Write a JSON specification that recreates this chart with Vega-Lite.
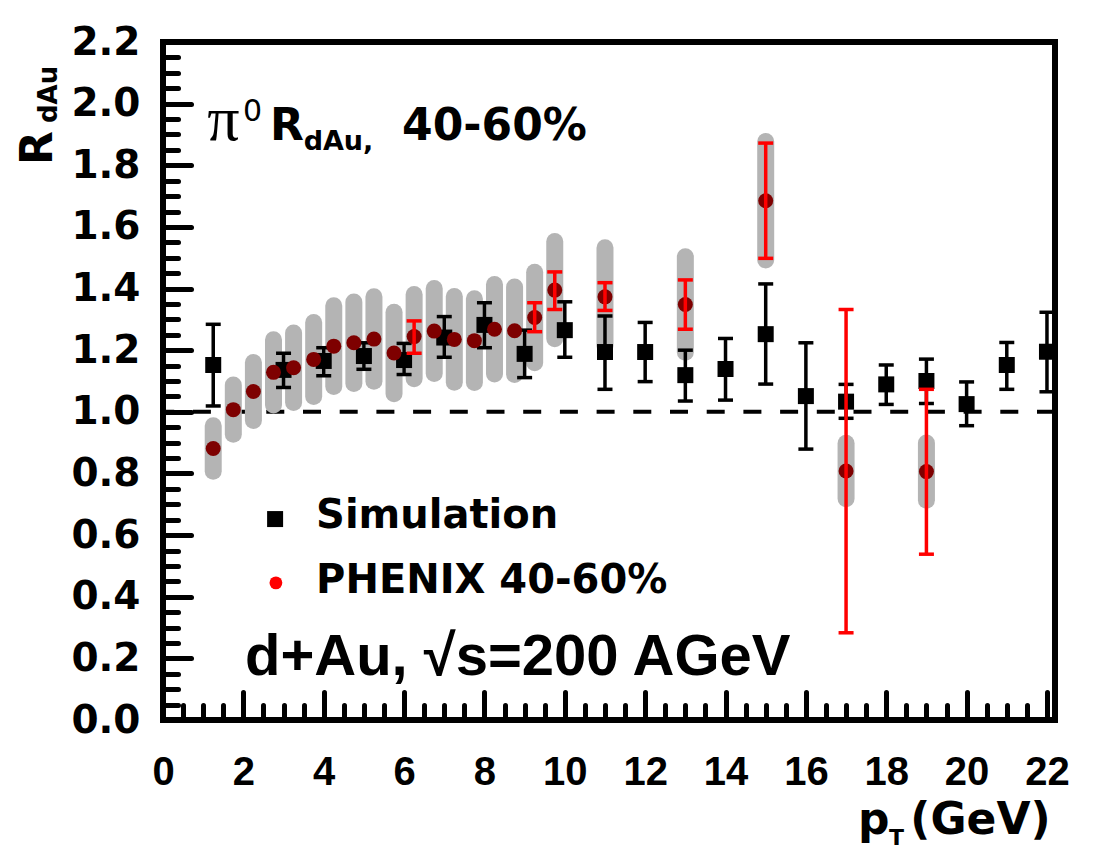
{
  "$schema": "https://vega.github.io/schema/vega-lite/v6.json",
  "width": 892,
  "height": 678,
  "autosize": {"type": "none"},
  "padding": {"left": 163, "top": 42, "right": 45, "bottom": 130},
  "background": "white",
  "config": {
    "view": {"stroke": "black", "strokeWidth": 6},
    "axis": {"domain": false, "grid": false, "tickColor": "black", "tickCap": "round", "tickWidth": 5, "labelColor": "black", "title": null}
  },
  "datasets": {
    "phenix": [
      {"pt": 1.25, "r": 0.881, "sys_lo": 0.807, "sys_hi": 0.955, "stat_lo": null, "stat_hi": null},
      {"pt": 1.75, "r": 1.007, "sys_lo": 0.927, "sys_hi": 1.087, "stat_lo": null, "stat_hi": null},
      {"pt": 2.25, "r": 1.066, "sys_lo": 0.972, "sys_hi": 1.160, "stat_lo": null, "stat_hi": null},
      {"pt": 2.75, "r": 1.128, "sys_lo": 1.022, "sys_hi": 1.234, "stat_lo": null, "stat_hi": null},
      {"pt": 3.25, "r": 1.143, "sys_lo": 1.030, "sys_hi": 1.256, "stat_lo": null, "stat_hi": null},
      {"pt": 3.75, "r": 1.170, "sys_lo": 1.050, "sys_hi": 1.290, "stat_lo": null, "stat_hi": null},
      {"pt": 4.25, "r": 1.213, "sys_lo": 1.082, "sys_hi": 1.344, "stat_lo": null, "stat_hi": null},
      {"pt": 4.75, "r": 1.224, "sys_lo": 1.092, "sys_hi": 1.356, "stat_lo": null, "stat_hi": null},
      {"pt": 5.25, "r": 1.236, "sys_lo": 1.099, "sys_hi": 1.373, "stat_lo": null, "stat_hi": null},
      {"pt": 5.75, "r": 1.191, "sys_lo": 1.059, "sys_hi": 1.323, "stat_lo": null, "stat_hi": null},
      {"pt": 6.25, "r": 1.244, "sys_lo": 1.107, "sys_hi": 1.381, "stat_lo": 1.190, "stat_hi": 1.295},
      {"pt": 6.75, "r": 1.262, "sys_lo": 1.124, "sys_hi": 1.400, "stat_lo": null, "stat_hi": null},
      {"pt": 7.25, "r": 1.235, "sys_lo": 1.096, "sys_hi": 1.374, "stat_lo": null, "stat_hi": null},
      {"pt": 7.75, "r": 1.231, "sys_lo": 1.095, "sys_hi": 1.367, "stat_lo": null, "stat_hi": null},
      {"pt": 8.25, "r": 1.268, "sys_lo": 1.123, "sys_hi": 1.413, "stat_lo": null, "stat_hi": null},
      {"pt": 8.75, "r": 1.263, "sys_lo": 1.121, "sys_hi": 1.405, "stat_lo": null, "stat_hi": null},
      {"pt": 9.25, "r": 1.306, "sys_lo": 1.159, "sys_hi": 1.453, "stat_lo": 1.260, "stat_hi": 1.354},
      {"pt": 9.75, "r": 1.395, "sys_lo": 1.237, "sys_hi": 1.553, "stat_lo": 1.332, "stat_hi": 1.454},
      {"pt": 11.0, "r": 1.373, "sys_lo": 1.214, "sys_hi": 1.532, "stat_lo": 1.329, "stat_hi": 1.419},
      {"pt": 13.0, "r": 1.348, "sys_lo": 1.193, "sys_hi": 1.503, "stat_lo": 1.268, "stat_hi": 1.428},
      {"pt": 15.0, "r": 1.685, "sys_lo": 1.493, "sys_hi": 1.877, "stat_lo": 1.498, "stat_hi": 1.872},
      {"pt": 17.0, "r": 0.808, "sys_lo": 0.718, "sys_hi": 0.898, "stat_lo": 0.283, "stat_hi": 1.332},
      {"pt": 19.0, "r": 0.806, "sys_lo": 0.713, "sys_hi": 0.899, "stat_lo": 0.538, "stat_hi": 1.073}
    ],
    "sim": [
      {"pt": 1.25, "r": 1.152, "lo": 1.019, "hi": 1.284},
      {"pt": 3, "r": 1.136, "lo": 1.079, "hi": 1.190},
      {"pt": 4, "r": 1.165, "lo": 1.117, "hi": 1.208},
      {"pt": 5, "r": 1.181, "lo": 1.138, "hi": 1.224},
      {"pt": 6, "r": 1.168, "lo": 1.121, "hi": 1.222},
      {"pt": 7, "r": 1.241, "lo": 1.177, "hi": 1.309},
      {"pt": 8, "r": 1.282, "lo": 1.208, "hi": 1.354},
      {"pt": 9, "r": 1.188, "lo": 1.111, "hi": 1.265},
      {"pt": 10, "r": 1.265, "lo": 1.177, "hi": 1.357},
      {"pt": 11, "r": 1.194, "lo": 1.073, "hi": 1.311},
      {"pt": 12, "r": 1.194, "lo": 1.098, "hi": 1.290},
      {"pt": 13, "r": 1.119, "lo": 1.035, "hi": 1.200},
      {"pt": 14, "r": 1.139, "lo": 1.038, "hi": 1.238},
      {"pt": 15, "r": 1.252, "lo": 1.090, "hi": 1.415},
      {"pt": 16, "r": 1.051, "lo": 0.879, "hi": 1.224},
      {"pt": 17, "r": 1.033, "lo": 0.979, "hi": 1.089},
      {"pt": 18, "r": 1.089, "lo": 1.024, "hi": 1.152},
      {"pt": 19, "r": 1.100, "lo": 1.027, "hi": 1.171},
      {"pt": 20, "r": 1.025, "lo": 0.955, "hi": 1.097},
      {"pt": 21, "r": 1.152, "lo": 1.073, "hi": 1.225},
      {"pt": 22, "r": 1.195, "lo": 1.065, "hi": 1.323}
    ]
  },
  "resolve": {"axis": {"x": "independent", "y": "independent"}},
  "layer": [
    {
      "data": {"values": [{"ref": 1}]},
      "mark": {"type": "rule", "strokeDash": [18, 18.7], "strokeWidth": 4, "color": "black"},
      "encoding": {
        "y": {"field": "ref", "type": "quantitative", "scale": {"domain": [0, 2.2], "nice": false, "zero": false}, "axis": null}
      }
    },
    {
      "data": {"name": "phenix"},
      "mark": {"type": "rule", "strokeWidth": 17, "strokeCap": "round", "color": "#b4b4b4"},
      "encoding": {
        "x": {"field": "pt", "type": "quantitative", "scale": {"domain": [0, 22.2], "nice": false, "zero": false},
              "axis": {"orient": "bottom", "values": [0, 2, 4, 6, 8, 10, 12, 14, 16, 18, 20, 22], "tickSize": -28, "labelPadding": 60,
                       "labelFont": "Liberation Sans", "labelFontWeight": "bold", "labelFontSize": 40, "labelFlush": false, "labelOverlap": false}},
        "y": {"field": "sys_lo", "type": "quantitative", "scale": {"domain": [0, 2.2], "nice": false, "zero": false},
              "axis": {"orient": "left", "values": [0, 0.2, 0.4, 0.6, 0.8, 1.0, 1.2, 1.4, 1.6, 1.8, 2.0, 2.2], "format": ".1f", "tickSize": -28, "labelPadding": 51,
                       "labelFont": "DejaVu Sans", "labelFontWeight": "bold", "labelFontSize": 39, "labelOverlap": false, "labelFlush": false}},
        "y2": {"field": "sys_hi"}
      }
    },
    {
      "data": {"name": "sim"},
      "mark": {"type": "rule", "strokeWidth": 3.5, "color": "black"},
      "encoding": {
        "x": {"field": "pt", "type": "quantitative", "scale": {"domain": [0, 22.2], "nice": false, "zero": false}, "axis": null},
        "y": {"field": "lo", "type": "quantitative", "scale": {"domain": [0, 2.2], "nice": false, "zero": false}, "axis": null},
        "y2": {"field": "hi"}
      }
    },
    {
      "data": {"name": "sim"},
      "mark": {"type": "tick", "orient": "horizontal", "size": 15, "thickness": 3.5, "color": "black", "opacity": 1},
      "encoding": {
        "x": {"field": "pt", "type": "quantitative", "scale": {"domain": [0, 22.2], "nice": false, "zero": false}, "axis": null},
        "y": {"field": "lo", "type": "quantitative", "scale": {"domain": [0, 2.2], "nice": false, "zero": false}, "axis": null}
      }
    },
    {
      "data": {"name": "sim"},
      "mark": {"type": "tick", "orient": "horizontal", "size": 15, "thickness": 3.5, "color": "black", "opacity": 1},
      "encoding": {
        "x": {"field": "pt", "type": "quantitative", "scale": {"domain": [0, 22.2], "nice": false, "zero": false}, "axis": null},
        "y": {"field": "hi", "type": "quantitative", "scale": {"domain": [0, 2.2], "nice": false, "zero": false}, "axis": null}
      }
    },
    {
      "data": {"name": "sim"},
      "mark": {"type": "point", "shape": "square", "filled": true, "size": 256, "color": "black", "opacity": 1},
      "encoding": {
        "x": {"field": "pt", "type": "quantitative", "scale": {"domain": [0, 22.2], "nice": false, "zero": false},
              "axis": {"orient": "bottom", "values": [0.5, 1, 1.5, 2, 2.5, 3, 3.5, 4, 4.5, 5, 5.5, 6, 6.5, 7, 7.5, 8, 8.5, 9, 9.5, 10, 10.5, 11, 11.5, 12, 12.5, 13, 13.5, 14, 14.5, 15, 15.5, 16, 16.5, 17, 17.5, 18, 18.5, 19, 19.5, 20, 20.5, 21, 21.5, 22], "tickSize": -15, "labels": false}},
        "y": {"field": "r", "type": "quantitative", "scale": {"domain": [0, 2.2], "nice": false, "zero": false},
              "axis": {"orient": "left", "values": [0.05, 0.1, 0.15, 0.2, 0.25, 0.3, 0.35, 0.4, 0.45, 0.5, 0.55, 0.6, 0.65, 0.7, 0.75, 0.8, 0.85, 0.9, 0.95, 1.0, 1.05, 1.1, 1.15, 1.2, 1.25, 1.3, 1.35, 1.4, 1.45, 1.5, 1.55, 1.6, 1.65, 1.7, 1.75, 1.8, 1.85, 1.9, 1.95, 2.0, 2.05, 2.1, 2.15], "tickSize": -15, "labels": false}}
      }
    },
    {
      "data": {"name": "phenix"},
      "mark": {"type": "point", "shape": "circle", "filled": true, "size": 225, "color": "#7e0000", "opacity": 1},
      "encoding": {
        "x": {"field": "pt", "type": "quantitative", "scale": {"domain": [0, 22.2], "nice": false, "zero": false}, "axis": null},
        "y": {"field": "r", "type": "quantitative", "scale": {"domain": [0, 2.2], "nice": false, "zero": false}, "axis": null}
      }
    },
    {
      "data": {"name": "phenix"},
      "transform": [{"filter": "datum.stat_lo != null"}],
      "mark": {"type": "rule", "strokeWidth": 3.5, "color": "#ff0000"},
      "encoding": {
        "x": {"field": "pt", "type": "quantitative", "scale": {"domain": [0, 22.2], "nice": false, "zero": false}, "axis": null},
        "y": {"field": "stat_lo", "type": "quantitative", "scale": {"domain": [0, 2.2], "nice": false, "zero": false}, "axis": null},
        "y2": {"field": "stat_hi"}
      }
    },
    {
      "data": {"name": "phenix"},
      "transform": [{"filter": "datum.stat_lo != null"}],
      "mark": {"type": "tick", "orient": "horizontal", "size": 15, "thickness": 3.5, "color": "#ff0000", "opacity": 1},
      "encoding": {
        "x": {"field": "pt", "type": "quantitative", "scale": {"domain": [0, 22.2], "nice": false, "zero": false}, "axis": null},
        "y": {"field": "stat_lo", "type": "quantitative", "scale": {"domain": [0, 2.2], "nice": false, "zero": false}, "axis": null}
      }
    },
    {
      "data": {"name": "phenix"},
      "transform": [{"filter": "datum.stat_lo != null"}],
      "mark": {"type": "tick", "orient": "horizontal", "size": 15, "thickness": 3.5, "color": "#ff0000", "opacity": 1},
      "encoding": {
        "x": {"field": "pt", "type": "quantitative", "scale": {"domain": [0, 22.2], "nice": false, "zero": false}, "axis": null},
        "y": {"field": "stat_hi", "type": "quantitative", "scale": {"domain": [0, 2.2], "nice": false, "zero": false}, "axis": null}
      }
    },
    {
      "data": {"values": [{"x": 2.79, "y": 0.652}]},
      "mark": {"type": "point", "shape": "square", "filled": true, "size": 256, "color": "black", "opacity": 1},
      "encoding": {
        "x": {"field": "x", "type": "quantitative", "scale": {"domain": [0, 22.2], "nice": false, "zero": false}, "axis": null},
        "y": {"field": "y", "type": "quantitative", "scale": {"domain": [0, 2.2], "nice": false, "zero": false}, "axis": null}
      }
    },
    {
      "data": {"values": [{"x": 2.81, "y": 0.445}]},
      "mark": {"type": "point", "shape": "circle", "filled": true, "size": 165, "color": "#ff0000", "opacity": 1},
      "encoding": {
        "x": {"field": "x", "type": "quantitative", "scale": {"domain": [0, 22.2], "nice": false, "zero": false}, "axis": null},
        "y": {"field": "y", "type": "quantitative", "scale": {"domain": [0, 2.2], "nice": false, "zero": false}, "axis": null}
      }
    },
    {
      "data": {"values": [
        {"x": 3.81, "y": 0.623, "t": "Simulation"},
        {"x": 3.81, "y": 0.412, "t": "PHENIX 40-60%"}
      ]},
      "mark": {"type": "text", "align": "left", "baseline": "alphabetic", "font": "DejaVu Sans", "fontWeight": "bold", "fontSize": 40, "color": "black"},
      "encoding": {
        "x": {"field": "x", "type": "quantitative", "scale": {"domain": [0, 22.2], "nice": false, "zero": false}, "axis": null},
        "y": {"field": "y", "type": "quantitative", "scale": {"domain": [0, 2.2], "nice": false, "zero": false}, "axis": null},
        "text": {"field": "t"}
      }
    },
    {
      "data": {"values": [{"x": 2.66, "y": 1.882, "t": "R"}, {"x": 5.95, "y": 1.882, "t": "40-60%"}]},
      "mark": {"type": "text", "align": "left", "baseline": "alphabetic", "font": "DejaVu Sans", "fontWeight": "bold", "fontSize": 44, "color": "black"},
      "encoding": {
        "x": {"field": "x", "type": "quantitative", "scale": {"domain": [0, 22.2], "nice": false, "zero": false}, "axis": null},
        "y": {"field": "y", "type": "quantitative", "scale": {"domain": [0, 2.2], "nice": false, "zero": false}, "axis": null},
        "text": {"field": "t"}
      }
    },
    {
      "data": {"values": [{"x": 3.5, "y": 1.85, "t": "dAu,"}]},
      "mark": {"type": "text", "align": "left", "baseline": "alphabetic", "font": "DejaVu Sans", "fontWeight": "bold", "fontSize": 27, "color": "black"},
      "encoding": {
        "x": {"field": "x", "type": "quantitative", "scale": {"domain": [0, 22.2], "nice": false, "zero": false}, "axis": null},
        "y": {"field": "y", "type": "quantitative", "scale": {"domain": [0, 2.2], "nice": false, "zero": false}, "axis": null},
        "text": {"field": "t"}
      }
    },
    {
      "data": {"values": [{"x": 1.1, "y": 1.882, "t": "π"}]},
      "mark": {"type": "text", "align": "left", "baseline": "alphabetic", "font": "Liberation Serif", "fontSize": 64, "color": "black"},
      "encoding": {
        "x": {"field": "x", "type": "quantitative", "scale": {"domain": [0, 22.2], "nice": false, "zero": false}, "axis": null},
        "y": {"field": "y", "type": "quantitative", "scale": {"domain": [0, 2.2], "nice": false, "zero": false}, "axis": null},
        "text": {"field": "t"}
      }
    },
    {
      "data": {"values": [{"x": 1.99, "y": 1.944, "t": "0"}]},
      "mark": {"type": "text", "align": "left", "baseline": "alphabetic", "font": "DejaVu Sans", "fontSize": 30, "color": "black"},
      "encoding": {
        "x": {"field": "x", "type": "quantitative", "scale": {"domain": [0, 22.2], "nice": false, "zero": false}, "axis": null},
        "y": {"field": "y", "type": "quantitative", "scale": {"domain": [0, 2.2], "nice": false, "zero": false}, "axis": null},
        "text": {"field": "t"}
      }
    },
    {
      "data": {"values": [{"x": 2.04, "y": 0.146, "t": "d+Au, √s=200 AGeV"}]},
      "mark": {"type": "text", "align": "left", "baseline": "alphabetic", "font": "Liberation Sans", "fontWeight": "bold", "fontSize": 58, "color": "black"},
      "encoding": {
        "x": {"field": "x", "type": "quantitative", "scale": {"domain": [0, 22.2], "nice": false, "zero": false}, "axis": null},
        "y": {"field": "y", "type": "quantitative", "scale": {"domain": [0, 2.2], "nice": false, "zero": false}, "axis": null},
        "text": {"field": "t"}
      }
    },
    {
      "data": {"values": [{"x": 17.3, "y": -0.37, "t": "p"}, {"x": 18.6, "y": -0.37, "t": "(GeV)"}]},
      "mark": {"type": "text", "align": "left", "baseline": "alphabetic", "font": "DejaVu Sans", "fontWeight": "bold", "fontSize": 44, "color": "black"},
      "encoding": {
        "x": {"field": "x", "type": "quantitative", "scale": {"domain": [0, 22.2], "nice": false, "zero": false}, "axis": null},
        "y": {"field": "y", "type": "quantitative", "scale": {"domain": [0, 2.2], "nice": false, "zero": false}, "axis": null},
        "text": {"field": "t"}
      }
    },
    {
      "data": {"values": [{"x": 18.07, "y": -0.405, "t": "T"}]},
      "mark": {"type": "text", "align": "left", "baseline": "alphabetic", "font": "DejaVu Sans", "fontWeight": "bold", "fontSize": 22, "color": "black"},
      "encoding": {
        "x": {"field": "x", "type": "quantitative", "scale": {"domain": [0, 22.2], "nice": false, "zero": false}, "axis": null},
        "y": {"field": "y", "type": "quantitative", "scale": {"domain": [0, 2.2], "nice": false, "zero": false}, "axis": null},
        "text": {"field": "t"}
      }
    },
    {
      "data": {"values": [{"x": -2.76, "y": 1.801, "t": "R"}]},
      "mark": {"type": "text", "align": "left", "baseline": "alphabetic", "angle": 270, "font": "DejaVu Sans", "fontWeight": "bold", "fontSize": 44, "color": "black"},
      "encoding": {
        "x": {"field": "x", "type": "quantitative", "scale": {"domain": [0, 22.2], "nice": false, "zero": false}, "axis": null},
        "y": {"field": "y", "type": "quantitative", "scale": {"domain": [0, 2.2], "nice": false, "zero": false}, "axis": null},
        "text": {"field": "t"}
      }
    },
    {
      "data": {"values": [{"x": -2.64, "y": 1.937, "t": "dAu"}]},
      "mark": {"type": "text", "align": "left", "baseline": "alphabetic", "angle": 270, "font": "DejaVu Sans", "fontWeight": "bold", "fontSize": 26, "color": "black"},
      "encoding": {
        "x": {"field": "x", "type": "quantitative", "scale": {"domain": [0, 22.2], "nice": false, "zero": false}, "axis": null},
        "y": {"field": "y", "type": "quantitative", "scale": {"domain": [0, 2.2], "nice": false, "zero": false}, "axis": null},
        "text": {"field": "t"}
      }
    }
  ]
}
